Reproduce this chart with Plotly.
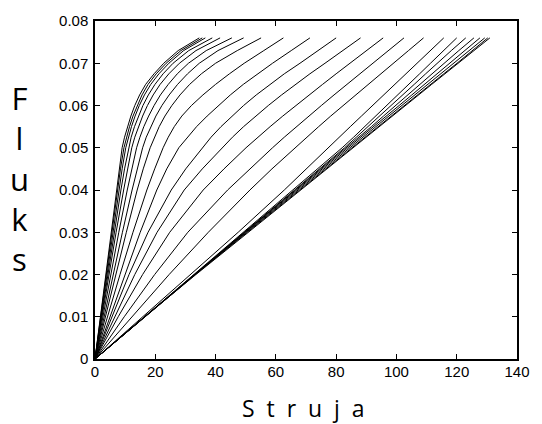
import plotly.graph_objects as go

# Flux levels (Wb) at which the current of every curve is tabulated
flux = [0, 0.01, 0.02, 0.03, 0.04, 0.045, 0.05, 0.0525, 0.055, 0.0575,
        0.06, 0.0625, 0.065, 0.0675, 0.07, 0.073, 0.076]

# Current (A) for each curve, from the steepest (aligned) to the flattest (unaligned)
curve_01 = [0, 1.75, 3.5, 5.25, 7.0, 7.9, 9.0, 9.8, 10.8, 11.9, 13.2, 14.8, 16.8, 19.6, 22.8, 27.6, 34.6]
curve_02 = [0, 1.85, 3.7, 5.55, 7.45, 8.45, 9.6, 10.45, 11.45, 12.6, 14.0, 15.6, 17.6, 20.3, 23.6, 28.5, 35.6]
curve_03 = [0, 1.95, 3.9, 5.9, 7.95, 9.0, 10.2, 11.1, 12.1, 13.3, 14.7, 16.4, 18.5, 21.2, 24.5, 29.4, 36.6]
curve_04 = [0, 2.1, 4.2, 6.35, 8.6, 9.8, 11.1, 12.0, 13.1, 14.4, 15.9, 17.7, 19.9, 22.6, 25.9, 31.1, 38.9]
curve_05 = [0, 2.3, 4.6, 7.0, 9.5, 10.8, 12.2, 13.2, 14.4, 15.8, 17.4, 19.3, 21.6, 24.5, 28.0, 33.5, 41.5]
curve_06 = [0, 2.6, 5.2, 7.9, 10.7, 12.2, 13.8, 14.9, 16.2, 17.8, 19.6, 21.7, 24.3, 27.3, 31.0, 36.9, 45.4]
curve_07 = [0, 3.0, 6.0, 9.1, 12.3, 14.0, 15.8, 17.0, 18.5, 20.2, 22.2, 24.6, 27.4, 30.7, 34.6, 40.8, 49.3]
curve_08 = [0, 3.4, 6.9, 10.4, 14.0, 16.0, 18.3, 19.7, 21.3, 23.2, 25.5, 28.2, 31.4, 35.3, 40.0, 47.2, 55.1]
curve_09 = [0, 4.1, 8.3, 12.6, 17.2, 19.8, 22.6, 24.3, 26.3, 28.8, 32.0, 35.8, 40.0, 44.6, 49.5, 56.0, 62.5]
curve_10 = [0, 5.0, 10.0, 15.0, 20.5, 23.8, 27.8, 30.6, 33.7, 37.2, 40.9, 44.9, 49.2, 53.9, 58.9, 65.1, 71.3]
curve_11 = [0, 5.6, 11.3, 17.6, 25.3, 30.1, 35.5, 38.5, 41.8, 45.4, 49.3, 53.5, 58.0, 62.8, 68.0, 74.0, 80.0]
curve_12 = [0, 6.5, 13.2, 20.6, 29.6, 35.6, 42.1, 45.6, 49.3, 53.3, 57.5, 61.9, 66.5, 71.3, 76.3, 82.2, 88.1]
curve_13 = [0, 7.7, 15.8, 24.8, 35.9, 42.8, 50.1, 54.0, 58.1, 62.3, 66.6, 71.0, 75.5, 80.0, 84.6, 90.1, 95.6]
curve_14 = [0, 9.7, 19.8, 30.8, 44.0, 51.3, 58.9, 62.8, 66.8, 70.9, 75.1, 79.3, 83.6, 87.9, 92.2, 97.3, 102.5]
curve_15 = [0, 12.2, 24.6, 37.6, 51.4, 58.7, 66.3, 70.2, 74.2, 78.2, 82.3, 86.4, 90.6, 94.8, 99.0, 104.0, 109.0]
curve_16 = [0, 15.9, 31.8, 47.5, 62.8, 70.0, 77.3, 81.0, 84.7, 88.4, 92.1, 95.8, 99.5, 103.2, 106.9, 111.3, 115.7]
curve_17 = [0, 16.4, 32.8, 49.3, 65.8, 74.0, 82.0, 85.8, 89.5, 93.2, 96.9, 100.5, 104.1, 107.7, 111.3, 115.6, 120.0]
curve_18 = [0, 16.4, 32.9, 49.5, 66.2, 74.6, 82.8, 86.7, 90.6, 94.5, 98.3, 102.1, 105.9, 109.7, 113.5, 118.2, 123.0]
curve_19 = [0, 16.4, 33.0, 49.7, 66.6, 75.1, 83.5, 87.6, 91.7, 95.7, 99.7, 103.7, 107.7, 111.7, 115.7, 120.7, 125.7]
curve_20 = [0, 16.5, 33.1, 49.9, 67.0, 75.6, 84.1, 88.3, 92.5, 96.7, 100.9, 105.1, 109.3, 113.5, 117.7, 122.7, 127.7]
curve_21 = [0, 16.5, 33.2, 50.2, 67.4, 76.0, 84.6, 88.9, 93.2, 97.5, 101.8, 106.1, 110.4, 114.7, 119.0, 124.1, 129.3]
curve_22 = [0, 16.5, 33.3, 50.5, 67.8, 76.5, 85.1, 89.4, 93.8, 98.1, 102.5, 106.9, 111.3, 115.7, 120.1, 125.2, 130.3]
curve_23 = [0, 16.5, 33.5, 50.8, 68.2, 76.9, 85.6, 89.9, 94.3, 98.6, 103.0, 107.4, 111.7, 116.1, 120.6, 125.8, 131.0]

curves = [
    curve_01, curve_02, curve_03, curve_04, curve_05, curve_06, curve_07, curve_08,
    curve_09, curve_10, curve_11, curve_12, curve_13, curve_14, curve_15, curve_16,
    curve_17, curve_18, curve_19, curve_20, curve_21, curve_22, curve_23,
]

x_ticks = [0, 20, 40, 60, 80, 100, 120, 140]
y_ticks = [0, 0.01, 0.02, 0.03, 0.04, 0.05, 0.06, 0.07, 0.08]
y_tick_labels = ["0", "0.01", "0.02", "0.03", "0.04", "0.05", "0.06", "0.07", "0.08"]

x_title = "Struja"
y_title = "Fluks"

fig = go.Figure()
for current in curves:
    fig.add_trace(go.Scatter(
        x=current, y=flux, mode="lines",
        line=dict(color="black", width=1),
        showlegend=False, hoverinfo="skip",
    ))

axis_style = dict(
    showgrid=False, zeroline=False,
    showline=True, linecolor="black", linewidth=1.5, mirror="ticks",
    ticks="inside", ticklen=5, tickwidth=1, tickcolor="black",
    tickfont=dict(family="Liberation Sans, Arial, sans-serif", size=15, color="black"),
)

fig.update_xaxes(range=[0, 140], tickvals=x_ticks, ticklabelstandoff=-2, **axis_style)
fig.update_yaxes(range=[0, 0.08], tickvals=y_ticks, ticktext=y_tick_labels,
                 ticklabelstandoff=2, **axis_style)

# Letter-spaced axis titles drawn as annotations
title_font = dict(family="Open Sans, sans-serif", color="black")
fig.add_annotation(
    text="\u00a0\u00a0".join(x_title), xref="paper", yref="paper", x=0.495, y=-0.145,
    xanchor="center", yanchor="middle", showarrow=False,
    font=dict(size=23, **title_font),
)
fig.add_annotation(
    text="<br>".join(y_title), xref="paper", yref="paper", x=-0.178, y=0.535,
    xanchor="center", yanchor="middle", showarrow=False,
    font=dict(size=31, **title_font),
)

fig.update_layout(
    width=542, height=424,
    margin=dict(l=95, r=15, t=20, b=65),
    paper_bgcolor="white", plot_bgcolor="white",
)

fig.write_html("out.html")
